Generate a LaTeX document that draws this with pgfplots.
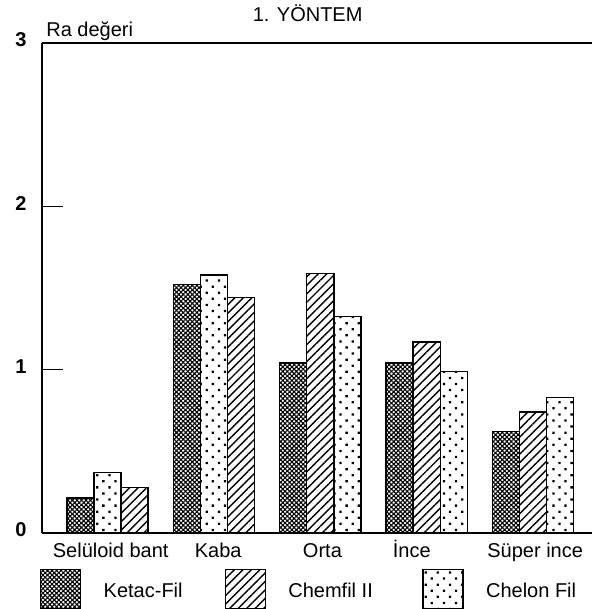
\documentclass[border=0pt]{standalone}
\usepackage{fontspec}
\setmainfont{Liberation Sans}
\usepackage{pgfplots}
\usepackage{pgfplotstable}
\pgfplotsset{compat=1.18}
\usetikzlibrary{patterns.meta}

% x: position (group index 0..4, bars shifted by one bar width), y: Ra value
\pgfplotstableread{
x y
-0.254 0.215
0.746 1.52
1.746 1.04
2.746 1.04
3.746 0.62
}\ketac
\pgfplotstableread{
x y
0.254 0.28
1.254 1.44
2.000 1.59
3.000 1.17
4.000 0.74
}\chemfil
\pgfplotstableread{
x y
0.000 0.37
1.000 1.58
2.254 1.325
3.254 0.99
4.254 0.83
}\chelon

\pgfplotsset{
  mylegend/.style={legend image code/.code={
    \draw[##1, line width=0.7pt] (0pt,-9.75pt) rectangle (20pt,9.75pt);
    \path[draw=none, fill=none, pattern=none] (0pt,0pt) -- (31.5pt,0pt);}},
}

\begin{document}
\begin{tikzpicture}
\begin{axis}[
  name=ax,
  scale only axis,
  width=275pt, height=245pt,
  font=\fontsize{10}{12}\selectfont,
  xmin=-0.616, xmax=4.554,
  ymin=0, ymax=3,
  axis x line=box, axis y line=left,
  axis line style={-, line width=1pt},
  ybar, bar width=0.254, bar shift=0pt,
  xtick={0.03,1.04,2.02,2.86,4.02},
  xticklabels={Selüloid bant,Kaba,Orta,İnce,Süper ince},
  xtick style={draw=none},
  xticklabel pos=lower,
  xticklabel style={anchor=base, yshift=-12pt},
  ytick={0,1,2,3},
  yticklabels={0,1,2,3},
  yticklabel style={font=\fontsize{10}{12}\selectfont\bfseries, xshift=-4.2pt, yshift=1.5pt},
  ytick pos=left,
  tick align=inside,
  major tick length=10.5pt,
  ytick style={line width=0.6pt, black},
  title={1. YÖNTEM},
  title style={at={(0.483,1)}, anchor=base, yshift=4.5pt, inner sep=0pt, font=\fontsize{10}{12}\selectfont},
  ylabel={Ra değeri},
  ylabel style={rotate=-90, at={(0,1)}, anchor=base west, xshift=2pt, yshift=3pt, inner sep=0pt},
  legend columns=3,
  legend cell align=left,
  legend style={at={(0,0)}, anchor=north west, xshift=-1pt, yshift=-18pt,
    draw=none, fill=none, inner sep=0pt, outer sep=0pt,
    /tikz/column sep=0pt,
    nodes={inner sep=0pt, text depth=0pt, yshift=-0.6pt}},
]
\addplot[draw=black, line width=0.7pt, pattern={Hatch[angle=45,distance=1.6pt,line width=0.55pt]}, mylegend] table[x=x,y=y] {\ketac};
\addlegendentry{\makebox[60.5pt][l]{Ketac-Fil}}
\addplot[draw=black, line width=0.7pt, pattern={Lines[angle=45,distance=3pt,line width=0.7pt]}, mylegend] table[x=x,y=y] {\chemfil};
\addlegendentry{\makebox[67pt][l]{Chemfil II}}
\addplot[draw=black, line width=0.7pt, pattern={Dots[distance=4.3pt,radius=0.8pt,angle=45]}, mylegend] table[x=x,y=y] {\chelon};
\addlegendentry{Chelon Fil}
\end{axis}
\pgfresetboundingbox
\path ([shift={(-21pt,-38pt)}]ax.south west) rectangle ([shift={(0pt,21.5pt)}]ax.north east);
\end{tikzpicture}
\end{document}
